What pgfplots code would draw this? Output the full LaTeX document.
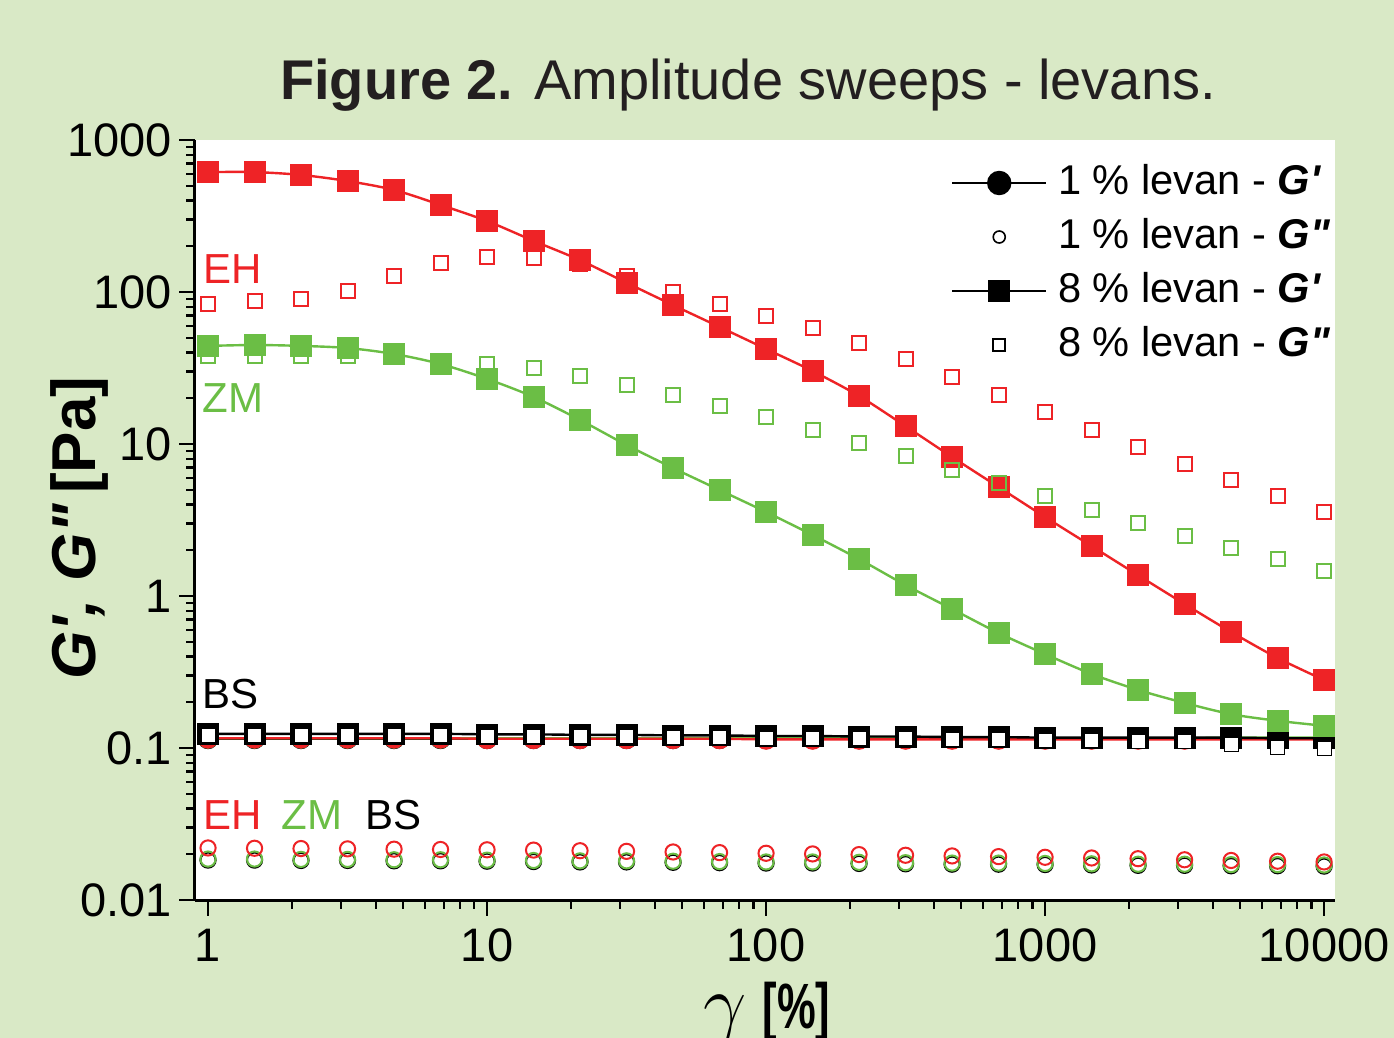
\documentclass[border=0pt]{standalone}
\usepackage{pgfplots}
\pgfplotsset{compat=1.18}
\usepackage{pgfplotstable}
\usepackage{fontspec}
\setmainfont{Liberation Sans}

\definecolor{bggreen}{HTML}{D9E9C6}
\definecolor{ehred}{HTML}{EE2326}
\definecolor{zmgreen}{HTML}{6BBE45}
\definecolor{titlegray}{HTML}{231F20}

% strain amplitude gamma [%], G' and G'' [Pa] for 8 % and 1 % levan solutions
\pgfplotstableread{
x      Gp8    Gpp8   Gp1    Gpp1
1      615    83.4   0.116  0.0220
1.468  615    87.3   0.116  0.0219
2.154  589    90.0   0.116  0.0218
3.162  537    101.6  0.116  0.0217
4.642  469    127    0.116  0.0216
6.813  374    155    0.116  0.0215
10     293    170    0.115  0.0214
14.68  217    167    0.115  0.0213
21.54  162    153    0.115  0.0211
31.62  115    127    0.115  0.0209
46.42  82.0   100    0.115  0.0207
68.13  58.9   83.4   0.115  0.0205
100    42.2   69.5   0.114  0.0203
146.8  30.2   58.0   0.114  0.0201
215.4  20.7   46.1   0.114  0.0199
316.2  13.1   36.2   0.114  0.0197
464.2  8.21   27.6   0.114  0.0195
681.3  5.21   21.0   0.114  0.0193
1000   3.31   16.2   0.114  0.0191
1468   2.13   12.4   0.114  0.0189
2154   1.37   9.55   0.114  0.0187
3162   0.886  7.38   0.114  0.0184
4642   0.580  5.80   0.114  0.0182
6813   0.391  4.55   0.114  0.0180
10000  0.280  3.57   0.114  0.0178
}\EHdata

\pgfplotstableread{
x      Gp8    Gpp8   Gp1    Gpp1
1      44.2   37.9   0.116  0.0186
1.468  44.8   37.9   0.116  0.0186
2.154  44.2   37.9   0.116  0.0185
3.162  42.8   37.9   0.116  0.0185
4.642  39.1   37.3   0.116  0.0184
6.813  33.6   35.2   0.116  0.0184
10     26.8   33.6   0.116  0.0183
14.68  20.4   31.6   0.116  0.0182
21.54  14.4   28.0   0.116  0.0181
31.62  9.85   24.4   0.116  0.0181
46.42  6.95   21.0   0.116  0.0180
68.13  4.98   17.8   0.116  0.0179
100    3.57   15.1   0.116  0.0178
146.8  2.52   12.4   0.116  0.0178
215.4  1.75   10.2   0.116  0.0177
316.2  1.18   8.34   0.116  0.0176
464.2  0.821  6.75   0.116  0.0175
681.3  0.571  5.54   0.116  0.0175
1000   0.415  4.55   0.116  0.0174
1468   0.307  3.68   0.116  0.0173
2154   0.241  3.02   0.116  0.0172
3162   0.198  2.48   0.116  0.0172
4642   0.167  2.07   0.117  0.0171
6813   0.151  1.75   0.117  0.0171
10000  0.140  1.46   0.117  0.0170
}\ZMdata

\pgfplotstableread{
x      Gp8    Gpp8   Gp1    Gpp1
1      0.124  0.121  0.115  0.0183
1.468  0.124  0.121  0.115  0.0183
2.154  0.124  0.121  0.115  0.0182
3.162  0.124  0.121  0.115  0.0182
4.642  0.124  0.121  0.115  0.0181
6.813  0.124  0.121  0.115  0.0181
10     0.123  0.120  0.115  0.0180
14.68  0.123  0.120  0.115  0.0179
21.54  0.122  0.119  0.115  0.0178
31.62  0.122  0.119  0.115  0.0178
46.42  0.121  0.118  0.115  0.0177
68.13  0.121  0.118  0.115  0.0176
100    0.120  0.116  0.115  0.0175
146.8  0.120  0.116  0.115  0.0175
215.4  0.119  0.115  0.115  0.0174
316.2  0.119  0.115  0.115  0.0173
464.2  0.118  0.114  0.115  0.0172
681.3  0.118  0.114  0.115  0.0172
1000   0.117  0.113  0.115  0.0171
1468   0.117  0.112  0.115  0.0170
2154   0.117  0.111  0.115  0.0169
3162   0.117  0.110  0.115  0.0169
4642   0.117  0.106  0.115  0.0168
6813   0.116  0.101  0.115  0.0168
10000  0.116  0.100  0.115  0.0167
}\BSdata

\pgfplotsset{
  gp/.style={line width=1.2bp, mark=square*, mark size=5.2bp,
    mark options={solid, line width=0.4bp}},
  gpp/.style={only marks, mark=square, mark size=3.5bp,
    mark options={solid, line width=1bp}},
  cgp/.style={line width=1.2bp, mark=*, mark size=5bp,
    mark options={solid, line width=0.4bp}},
  cgpp/.style={only marks, mark=o, mark size=3.8bp,
    mark options={solid, line width=1bp}},
}

\begin{document}
\begin{tikzpicture}
\fill[bggreen] (-97.5bp,-69bp) rectangle (599.5bp,450bp);
\path[use as bounding box] (-97.5bp,-69bp) rectangle (599.5bp,450bp);
\begin{axis}[
  at={(0,0)}, anchor=south west,
  scale only axis, width=570bp, height=380bp,
  xmode=log, ymode=log,
  xmin=0.898, xmax=10940, ymin=0.01, ymax=1000,
  clip mode=individual,
  axis x line*=bottom, axis y line*=left,
  axis line style={line width=1.5bp, -},
  axis background/.style={fill=white},
  tick align=outside,
  major tick length=8bp, minor tick length=4.5bp,
  every tick/.style={black, line width=1.2bp},
  log ticks with fixed point,
  /pgf/number format/1000 sep={},
  /pgf/number format/assume math mode=true,
  ticklabel style={font=\fontsize{23.5bp}{28bp}\selectfont},
  xticklabel style={yshift=-3bp},
  xtick={1,10,100,1000,10000},
  ytick={0.01,0.1,1,10,100,1000},
  legend style={draw=none, fill=none, at={(rel axis cs:1,1)}, anchor=north east,
    xshift=-2.5bp, yshift=-12.5bp, inner sep=0pt, outer sep=0pt,
    row sep=7bp, column sep=5.5bp,
    font=\fontsize{20.8bp}{25bp}\selectfont,
    nodes={text height=15bp, text depth=5bp, inner sep=0pt}},
  legend cell align=left,
  legend image code/.code={\draw[mark repeat=2,mark phase=2,#1]
    plot coordinates {(0bp,1bp) (23.5bp,1bp) (47bp,1bp)};},
]
% 1 % levan, storage modulus
\addplot[cgp, black, forget plot] table[x=x, y=Gp1] {\BSdata};
\addplot[cgp, zmgreen, forget plot] table[x=x, y=Gp1] {\ZMdata};
\addplot[cgp, ehred, forget plot] table[x=x, y=Gp1] {\EHdata};
% 1 % levan, loss modulus
\addplot[cgpp, black, forget plot] table[x=x, y=Gpp1] {\BSdata};
\addplot[cgpp, zmgreen, forget plot] table[x=x, y=Gpp1] {\ZMdata};
\addplot[cgpp, ehred, forget plot] table[x=x, y=Gpp1] {\EHdata};
% 8 % levan, storage modulus
\addplot[gp, black, forget plot] table[x=x, y=Gp8] {\BSdata};
\addplot[gp, zmgreen, smooth, forget plot] table[x=x, y=Gp8] {\ZMdata};
\addplot[gp, ehred, smooth, forget plot] table[x=x, y=Gp8] {\EHdata};
% 8 % levan, loss modulus
\addplot[gpp, ehred, forget plot] table[x=x, y=Gpp8] {\EHdata};
\addplot[gpp, zmgreen, forget plot] table[x=x, y=Gpp8] {\ZMdata};
\addplot[gpp, black, mark=square*, mark options={fill=white}, forget plot] table[x=x, y=Gpp8] {\BSdata};

% legend
\addlegendimage{black, line width=1bp, mark=*, mark size=5.6bp}
\addlegendentry{1 \% levan - {\bfseries\itshape G\textquotesingle}}
\addlegendimage{only marks, black, mark=o, mark size=3bp, mark options={line width=0.8bp}}
\addlegendentry{1 \% levan - {\bfseries\itshape G\textquotedbl}}
\addlegendimage{black, line width=1bp, mark=square*, mark size=5bp}
\addlegendentry{8 \% levan - {\bfseries\itshape G\textquotesingle}}
\addlegendimage{only marks, black, mark=square, mark size=3bp, mark options={line width=0.8bp}}
\addlegendentry{8 \% levan - {\bfseries\itshape G\textquotedbl}}

% sample labels
\node[anchor=base west, text=ehred, font=\fontsize{21bp}{25bp}\selectfont, inner sep=0pt] at (axis cs:0.96,114.6) {EH};
\node[anchor=base west, text=zmgreen, font=\fontsize{21bp}{25bp}\selectfont, inner sep=0pt] at (axis cs:0.955,16.0) {ZM};
\node[anchor=base west, text=black, font=\fontsize{21bp}{25bp}\selectfont, inner sep=0pt] at (axis cs:0.955,0.183) {BS};
\node[anchor=base west, text=ehred, font=\fontsize{21bp}{25bp}\selectfont, inner sep=0pt] at (axis cs:0.96,0.0289) {EH};
\node[anchor=base west, text=zmgreen, font=\fontsize{21bp}{25bp}\selectfont, inner sep=0pt] at (axis cs:1.83,0.0289) {ZM};
\node[anchor=base west, text=black, font=\fontsize{21bp}{25bp}\selectfont, inner sep=0pt] at (axis cs:3.67,0.0289) {BS};

% title and axis labels
\node[anchor=base, text=titlegray, font=\fontsize{28bp}{34bp}\selectfont, inner sep=0pt]
  at ([xshift=-8.5bp, yshift=20bp]rel axis cs:0.5,1) {\textbf{Figure 2.} Amplitude sweeps - levans.};
\node[anchor=base, rotate=90, font=\fontsize{31bp}{36bp}\selectfont\bfseries, inner sep=0pt]
  at ([xshift=-49.5bp, yshift=-4bp]rel axis cs:0,0.5) {{\itshape G\textquotesingle, G\textquotedbl}\,[Pa]};
\node[anchor=base west, inner sep=0pt]
  at ([xshift=254bp, yshift=-64bp]rel axis cs:0,0)
  {\fontsize{24bp}{28bp}\selectfont\scalebox{1.55}{$\gamma$}\hspace{8bp}\scalebox{0.68}[1]{\fontsize{32bp}{38bp}\selectfont\bfseries[\%]}};
\end{axis}
\end{tikzpicture}
\end{document}
